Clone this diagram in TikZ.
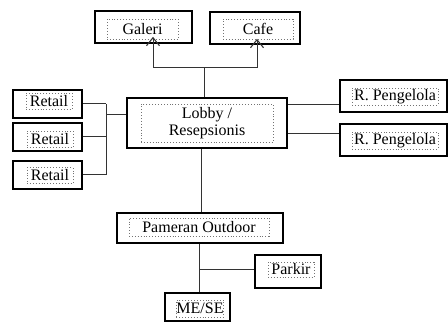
\documentclass[tikz,border=0pt]{standalone}
\usepackage{fontspec}
\setmainfont{Liberation Serif}
\usetikzlibrary{arrows.meta}
\begin{document}
\begin{tikzpicture}[x=1pt,y=-1pt,
  outerbox/.style={draw=black,line width=1.7pt,inner sep=0pt,fill=white},
  innerbox/.style={draw=black!55,dotted,line width=0.9pt,inner sep=0pt,
    font=\fontsize{16}{17}\selectfont,align=center},
  conn/.style={draw=black!80,line width=1pt},
  arr/.style={conn,-{Straight Barb[length=8pt,width=13pt,line width=1.1pt]},shorten >=-1pt}]
\useasboundingbox[fill=white] (0,0) rectangle (448,326);
% outer boxes
\node[outerbox,minimum width=97pt,minimum height=32pt] (gal) at (143.5,27) {};
\node[outerbox,minimum width=90pt,minimum height=32pt] (caf) at (255,28) {};
\node[outerbox,minimum width=160pt,minimum height=50pt] (lob) at (207,123) {};
\node[outerbox,minimum width=69pt,minimum height=28pt] (r1) at (47.5,104) {};
\node[outerbox,minimum width=69pt,minimum height=28pt] (r2) at (47.5,137) {};
\node[outerbox,minimum width=69pt,minimum height=28pt] (r3) at (47.5,175) {};
\node[outerbox,minimum width=107pt,minimum height=32pt] (p1) at (393.5,96) {};
\node[outerbox,minimum width=107pt,minimum height=32pt] (p2) at (393.5,140) {};
\node[outerbox,minimum width=166pt,minimum height=30pt] (pam) at (200,228) {};
\node[outerbox,minimum width=66pt,minimum height=33pt] (park) at (288,271.5) {};
\node[outerbox,minimum width=65pt,minimum height=28pt] (me) at (197.5,307) {};
% inner labelled boxes
\node[innerbox,minimum width=71pt,minimum height=20pt] (galt) at (142.5,29) {Galeri};
\node[innerbox,minimum width=70pt,minimum height=20pt] (caft) at (258,29) {Cafe};
\node[innerbox,minimum width=132pt,minimum height=38pt] (lobt) at (207,123) {Lobby /\\Resepsionis};
\node[innerbox,minimum width=46pt,minimum height=16pt] (r1t) at (49,101) {Retail};
\node[innerbox,minimum width=46pt,minimum height=16pt] (r2t) at (50,139) {Retail};
\node[innerbox,minimum width=46pt,minimum height=16pt] (r3t) at (50,175.5) {Retail};
\node[innerbox,minimum width=86pt,minimum height=17pt] (p1t) at (395,96.5) {R. Pengelola};
\node[innerbox,minimum width=86pt,minimum height=17pt] (p2t) at (395,140.5) {R. Pengelola};
\node[innerbox,minimum width=140pt,minimum height=18pt] (pamt) at (199,227) {Pameran Outdoor};
\node[innerbox,minimum width=46pt,minimum height=15pt] (parkt) at (291,269.5) {Parkir};
\node[innerbox,minimum width=46pt,minimum height=17pt] (met) at (200,308.5) {ME/SE};
% top connectors
\coordinate (j) at (204,68);
\coordinate (ga) at (153,68);
\coordinate (ca) at (257,68);
\draw[conn] (j |- lob.north) -- (j);
\draw[conn] (ga) -- (ca);
\draw[arr] (ga) -- ([yshift=6pt]ga |- gal.south);
\draw[arr] (ca) -- ([yshift=5pt]ca |- caf.south);
% retail connectors
\coordinate (bus) at (106,0);
\coordinate (lj) at (106,115);
\draw[conn] (r1.east) -- (r1.east -| bus);
\draw[conn] (r2.east) -- (r2.east -| bus);
\draw[conn] (r3.east) -- (r3.east -| bus);
\draw[conn] (bus |- r1.east) -- (bus |- r3.east);
\draw[conn] (lj) -- (lj -| lob.west);
% pengelola connectors
\coordinate (rp1) at (0,105);
\coordinate (rp2) at (0,134);
\draw[conn] (lob.east |- rp1) -- (p1.west |- rp1);
\draw[conn] (lob.east |- rp2) -- (p2.west |- rp2);
% bottom connectors
\coordinate (lb) at (201,0);
\coordinate (pb) at (199,0);
\coordinate (pk) at (199,270);
\draw[conn] (lb |- lob.south) -- (lb |- pam.north);
\draw[conn] (pb |- pam.south) -- (pb |- me.north);
\draw[conn] (pk) -- (pk -| park.west);
\end{tikzpicture}
\end{document}
